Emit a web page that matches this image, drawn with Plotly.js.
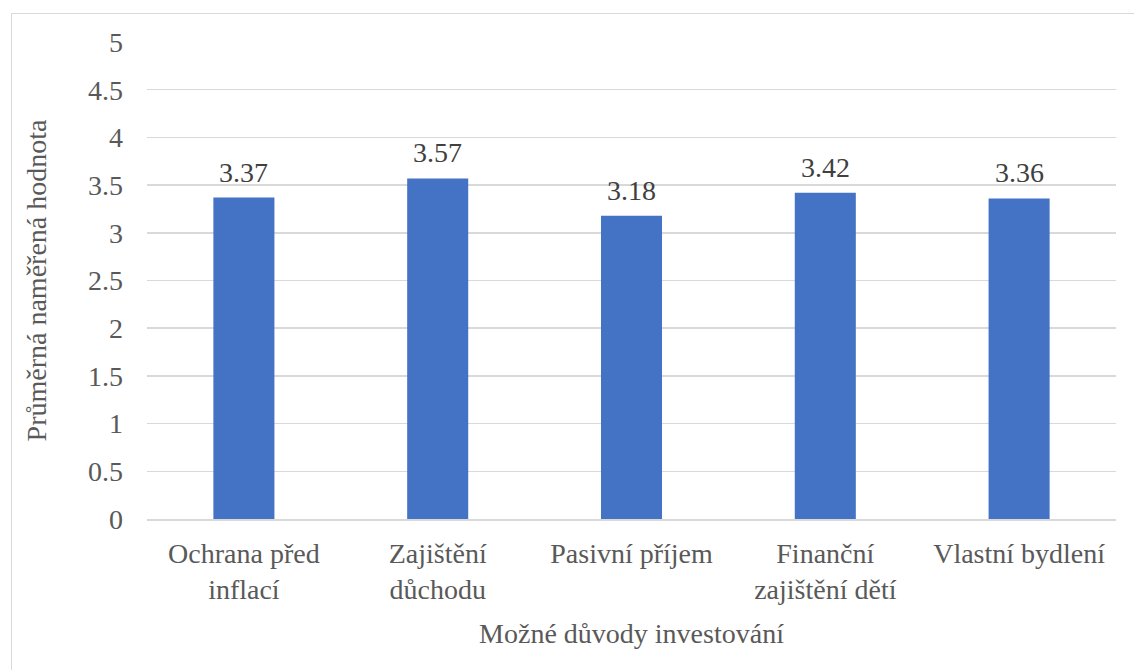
<!DOCTYPE html>
<html>
<head>
<meta charset="utf-8">
<script src="https://cdn.plot.ly/plotly-3.0.1.min.js"></script>
<style>
  html, body { margin: 0; padding: 0; width: 1134px; height: 670px; overflow: hidden; background: #fff; }
  #frame { position: absolute; left: 11px; top: 13px; width: 1200px; height: 700px; border: 1px solid #D9D9D9; box-sizing: border-box; }
  #chart { position: absolute; left: 0; top: 0; width: 1134px; height: 670px; }
</style>
</head>
<body>
<div id="frame"></div>
<div id="chart"></div>
<script>
const categories = ["Ochrana před<br>inflací", "Zajištění<br>důchodu", "Pasivní příjem", "Finanční<br>zajištění dětí", "Vlastní bydlení"];
const values = [3.37, 3.57, 3.18, 3.42, 3.36];
const valueLabels = ["3.37", "3.57", "3.18", "3.42", "3.36"];
const yTickVals = [0, 0.5, 1, 1.5, 2, 2.5, 3, 3.5, 4, 4.5, 5];
const yTickText = ["0", "0.5", "1", "1.5", "2", "2.5", "3", "3.5", "4", "4.5", "5"];
const xTitle = "Možné důvody investování";
const yTitle = "Průměrná naměřená hodnota";

const fontFamily = "Liberation Serif";

const trace = {
  type: "bar",
  x: categories,
  y: values,
  marker: { color: "#4472C4" },
  hoverinfo: "x+y"
};

const annotations = categories.map((c, i) => ({
  x: c, y: values[i], xref: "x", yref: "y",
  text: valueLabels[i], showarrow: false,
  yanchor: "bottom", yshift: 8,
  font: { family: fontFamily, size: 28, color: "#404040" }
}));

const layout = {
  width: 1134, height: 670,
  margin: { l: 147, r: 18, t: 42, b: 151 },
  paper_bgcolor: "rgba(0,0,0,0)",
  plot_bgcolor: "rgba(0,0,0,0)",
  bargap: 0.685,
  showlegend: false,
  font: { family: fontFamily, size: 28, color: "#595959" },
  xaxis: {
    type: "category",
    showgrid: false,
    showline: true, linecolor: "#D9D9D9", linewidth: 2,
    ticks: "",
    tickfont: { family: fontFamily, size: 28, color: "#595959" },
    ticklabelstandoff: 8,
    title: { text: xTitle, standoff: 19, font: { family: fontFamily, size: 28, color: "#595959" } },
    automargin: false
  },
  yaxis: {
    range: [0, 5],
    tickvals: yTickVals, ticktext: yTickText,
    showgrid: true, gridcolor: "#D9D9D9", gridwidth: 1.5,
    zeroline: false, showline: false,
    ticks: "",
    ticklabelstandoff: 23,
    tickfont: { family: fontFamily, size: 28, color: "#595959" },
    title: { text: yTitle, standoff: 33, font: { family: fontFamily, size: 28, color: "#595959" } },
    automargin: false,
    fixedrange: true
  },
  annotations: annotations
};

Plotly.newPlot("chart", [trace], layout, { displayModeBar: false, staticPlot: true });
</script>
</body>
</html>
